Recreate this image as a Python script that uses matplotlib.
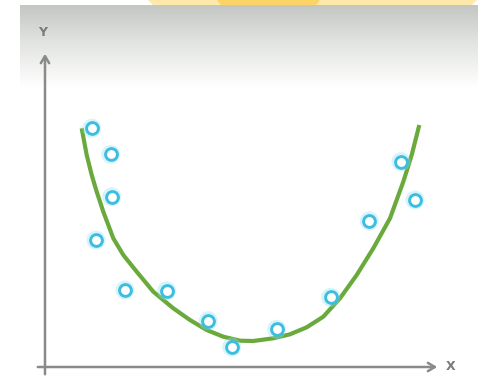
import numpy as np
import matplotlib.pyplot as plt
from matplotlib.patches import Polygon
from matplotlib.colors import LinearSegmentedColormap

# scatter samples
pts_x = [4.67, 6.57, 6.67, 5.1, 8.0, 12.17, 16.33, 18.67, 23.17, 28.57, 32.43, 35.6, 37.0]
pts_y = [23.87, 21.27, 17.03, 12.7, 7.7, 7.63, 4.63, 2.0, 3.77, 6.97, 14.6, 20.53, 16.7]

# fitted curve
fit_x = [3.67, 4.17, 4.67, 5.17, 5.83, 6.83, 7.83, 9.17, 10.83, 12.83, 14.5, 16.17, 17.83,
         19.5, 20.83, 22.83, 24.5, 26.17, 27.83, 29.5, 31.17, 32.83, 34.5, 35.83, 36.67, 37.43]
fit_y = [23.87, 21.2, 19.2, 17.53, 15.53, 12.87, 11.2, 9.53, 7.53, 5.87, 4.7, 3.7, 3.03,
         2.63, 2.6, 2.87, 3.27, 3.97, 5.03, 6.87, 9.2, 11.87, 14.87, 18.53, 21.2, 24.2]

fig = plt.figure(figsize=(4.87, 3.77), dpi=100)

# background banner: grey fade + yellow tab
bg = fig.add_axes([0, 0, 1, 1])
bg.set_xlim(0, 487)
bg.set_ylim(377, 0)
bg.axis('off')
grad = np.linspace(0, 1, 200)[:, None]
cmap = LinearSegmentedColormap.from_list('g', [(0, '#c4c6c3'), (0.45, '#e2e4e1'), (1, '#ffffff')])
bg.imshow(grad, cmap=cmap, extent=(20, 478, 88, 5), aspect='auto', zorder=0, interpolation='bilinear')
bg.add_patch(Polygon([[148, 0], [477, 0], [472, 5], [153, 5]], closed=True,
                     facecolor='#fde9aa', edgecolor='none', zorder=1))
bg.add_patch(Polygon([[217, 0], [320, 0], [316, 5], [221, 5]], closed=True,
                     facecolor='#fcd366', edgecolor='none', zorder=2))

ax = fig.add_axes([0, 0, 1, 1])
ax.patch.set_alpha(0)
ax.set_xlim(-4.5, 44.2)
ax.set_ylim(-1.0, 36.7)
ax.axis('off')

axc = '#8a8a8a'
ax.annotate('', xy=(0, 31.6), xytext=(0, -1.0),
            arrowprops=dict(arrowstyle='->,head_length=0.5,head_width=0.3', color=axc, lw=1.8))
ax.annotate('', xy=(39.5, 0), xytext=(-1.0, 0),
            arrowprops=dict(arrowstyle='->,head_length=0.5,head_width=0.3', color=axc, lw=1.8))
ax.text(-0.2, 33.4, 'Y', color='#7a7a7a', fontsize=9, fontweight='bold', ha='center', va='center')
ax.text(40.6, 0.1, 'X', color='#7a7a7a', fontsize=9, fontweight='bold', ha='center', va='center')

ax.plot(fit_x, fit_y, color='#6aaa3c', lw=3, solid_capstyle='butt', zorder=3)

# soft glow under the rings
ax.scatter(pts_x, pts_y, s=115, facecolor='none', edgecolor='#8fe2f5', linewidths=3, alpha=0.35, zorder=4)
ax.scatter(pts_x, pts_y, s=72, facecolor='white', edgecolor='#3dbde0', linewidths=2.1, zorder=5)

fig.savefig('out.png', dpi=100)
